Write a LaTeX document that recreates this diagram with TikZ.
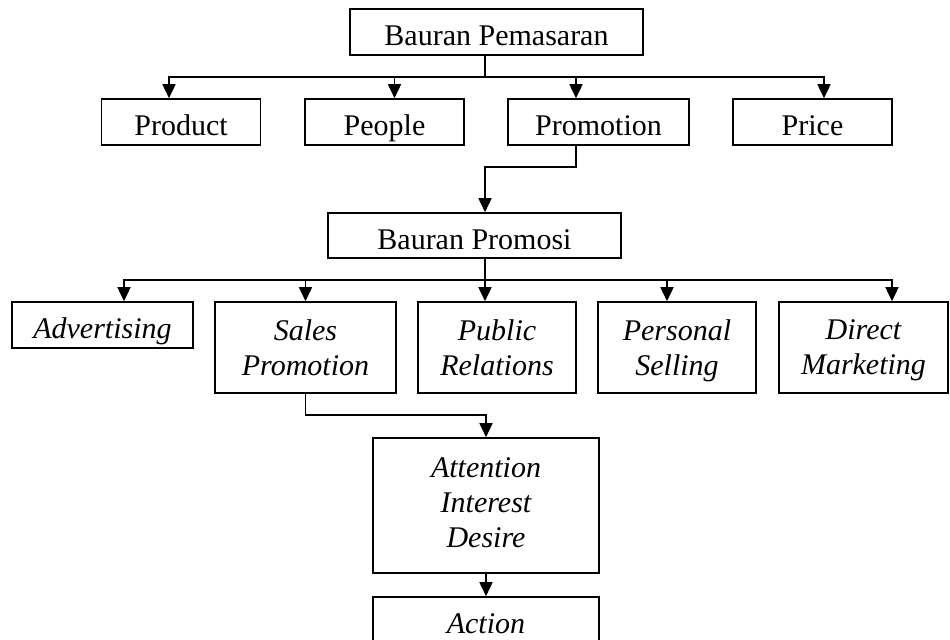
\documentclass[tikz,border=0pt]{standalone}
\usepackage{fontspec}
\setmainfont{Liberation Serif}
\usepackage{tikz}
\usetikzlibrary{arrows.meta}
\tikzstyle{fMix} = [rectangle, draw=black, line width=0.8pt, inner sep=0pt, minimum height=23pt, text height=13.5pt, text depth=0pt, font=\fontsize{15}{17.5}\selectfont]
\tikzstyle{fElement} = [fMix, minimum width=79.5pt]
\tikzstyle{fTool} = [rectangle, draw=black, line width=0.8pt, inner sep=0pt, minimum width=79pt, minimum height=45.5pt, text depth=0pt, align=center, font=\fontsize{15}{17.5}\selectfont\itshape]
\tikzstyle{fConnector} = [line width=0.8pt, -{Triangle[length=7pt, width=6.5pt]}]

\begin{document}
\begin{tikzpicture}[x=0.5pt, y=-0.5pt]
    \useasboundingbox (0,0) rectangle (950,639);
    \node (pemasaran) [fMix, minimum width=146.5pt] at (496.5,32) {Bauran Pemasaran};
    \node (product) [fElement] at (181,122) {Product};
    \node (people) [fElement] at (384.5,122) {People};
    \node (promotion) [fElement, minimum width=90.5pt] at (598.5,122) {Promotion};
    \node (price) [fElement] at (812.5,122) {Price};
    \node (promosi) [fMix, minimum width=146.5pt, minimum height=22.5pt] at (474.5,235.5) {Bauran Promosi};
    \node (advertising) [fMix, minimum width=90.5pt, font=\fontsize{15}{17.5}\selectfont\itshape] at (102.5,325) {Advertising};
    \node (sales) [fTool, minimum width=90.5pt] at (305.5,347.5) {Sales\\Promotion};
    \node (public) [fTool] at (497,347.5) {Public\\Relations};
    \node (personal) [fTool] at (677,347.5) {Personal\\Selling};
    \node (direct) [fTool, minimum width=84.5pt] at (863.5,347.5) {Direct\\Marketing};
    \node (aid) [fTool, minimum width=113pt, minimum height=67.5pt, text depth=3pt] at (486,505.5) {Attention\\Interest\\Desire};
    \node (action) [fMix, minimum width=113pt, font=\fontsize{15}{17.5}\selectfont\itshape] at (486,620) {Action};

    % branching points
    \coordinate (busMix) at (485,77);
    \coordinate (busPromotion) at (485,167);
    \coordinate (busPromosi) at (485,280);
    \coordinate (busSales) at (486,415);

    \draw [line width=0.8pt] (pemasaran.south -| busMix) -- (busMix);
    \draw [fConnector] (busMix) -| ([xshift=-6pt]product.north);
    \draw [fConnector] (busMix) -| ([xshift=5pt]people.north);
    \draw [fConnector] (busMix) -| ([xshift=-11.25pt]promotion.north);
    \draw [fConnector] (busMix) -| ([xshift=5.75pt]price.north);
    \draw [fConnector] ([xshift=-11.25pt]promotion.south) |- (busPromotion) -- (promosi.north -| busPromotion);

    \draw [line width=0.8pt] (promosi.south -| busPromosi) -- (busPromosi);
    \draw [fConnector] (busPromosi) -| ([xshift=10.75pt]advertising.north);
    \draw [fConnector] (busPromosi) -| (sales.north);
    \draw [fConnector] (busPromosi) -| ([xshift=-6pt]public.north);
    \draw [fConnector] (busPromosi) -| ([xshift=-5pt]personal.north);
    \draw [fConnector] (busPromosi) -| ([xshift=14.25pt]direct.north);

    \draw [fConnector] (sales.south) |- (busSales) -- (aid.north);
    \draw [fConnector] (aid) -- (action);
\end{tikzpicture}
\end{document}
